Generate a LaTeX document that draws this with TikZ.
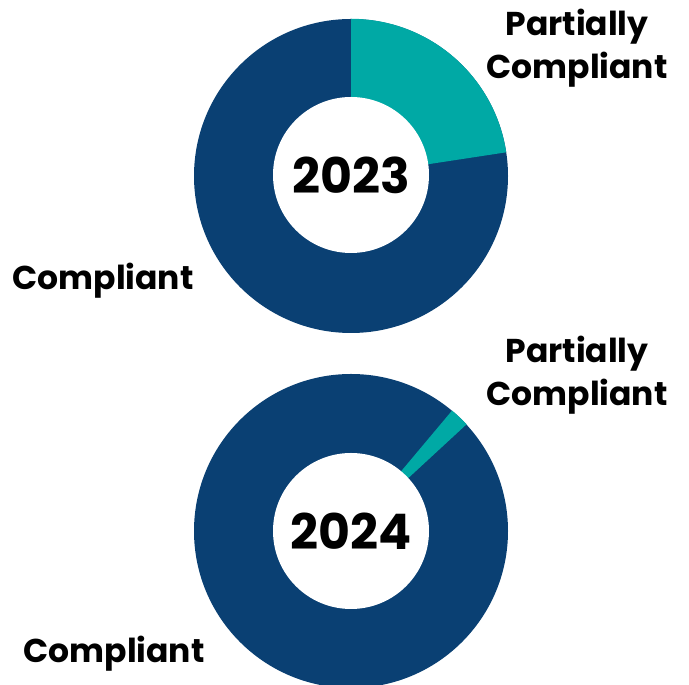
\documentclass[tikz,border=0pt]{standalone}
\usepackage{fontspec}
\setmainfont{Poppins}[BoldFont={* Bold}]
\usepackage{color}
\definecolor{mynavy}{RGB}{10,64,115}
\definecolor{myteal}{RGB}{0,169,165}
\usepackage{tikz}
\usetikzlibrary{calc,positioning}
\tikzstyle{ring}=[fill=mynavy,circle,minimum size=314pt,inner sep=0pt]
\tikzstyle{hole}=[fill=white,circle,minimum size=156pt,inner sep=0pt,font=\fontsize{49}{58}\selectfont\bfseries]
\tikzstyle{lbl}=[align=center,inner sep=0pt,font=\fontsize{33}{40}\selectfont\bfseries]

\begin{document}
\begin{tikzpicture}[x=1pt,y=1pt]
\useasboundingbox (0,0) rectangle (689,685);
% 2023
\node [ring] (ring23) at (351,509) {};
\fill [myteal] (ring23.center) -- (ring23.90) arc[start angle=90,end angle=8.6,radius=157pt] -- cycle;
\node [hole] (y23) at (351,510) {2023};
\node [lbl,anchor=base] (pc23) at (577,649) {Partially};
\node [lbl,anchor=base] (pc23b) at (577,606) {Compliant};
\node [lbl,anchor=base] (c23) at (103,395) {Compliant};
% 2024
\node [ring] (ring24) at (351,154) {};
\fill [myteal] (ring24.center) -- (ring24.50.3) arc[start angle=50.3,end angle=43,radius=157pt] -- cycle;
\node [hole] (y24) at (351,154) {2024};
\node [lbl,anchor=base] (pc24) at (577,322) {Partially};
\node [lbl,anchor=base] (pc24b) at (577,279) {Compliant};
\node [lbl,anchor=base] (c24) at (114,22) {Compliant};
\end{tikzpicture}
\end{document}
